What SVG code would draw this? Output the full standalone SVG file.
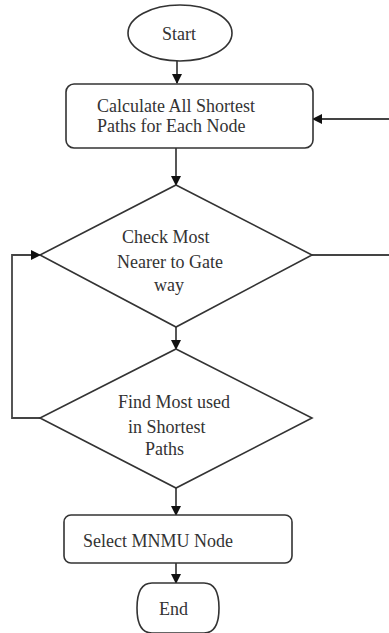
<svg xmlns="http://www.w3.org/2000/svg" width="389" height="633" viewBox="0 0 389 633">
<defs>
<marker id="ah" markerWidth="10" markerHeight="10" refX="9" refY="5" orient="auto" markerUnits="userSpaceOnUse">
<path d="M0,0 L10,5 L0,10 Z" fill="#111"/>
</marker>
<style>
.s{fill:#fff;stroke:#333;stroke-width:1.6}
.c{fill:none;stroke:#444;stroke-width:1.8}
.t{font-family:"Liberation Serif","Times New Roman",serif;font-size:18px;fill:#333}
</style>
</defs>
<rect width="389" height="633" fill="#fff"/>
<g id="connectors">
<line class="c" x1="177" y1="61" x2="177" y2="83" marker-end="url(#ah)"/>
<line class="c" x1="176" y1="148" x2="176" y2="185" marker-end="url(#ah)"/>
<line class="c" x1="176" y1="327" x2="176" y2="349" marker-end="url(#ah)"/>
<line class="c" x1="176" y1="488" x2="176" y2="515" marker-end="url(#ah)"/>
<line class="c" x1="176" y1="563" x2="176" y2="583" marker-end="url(#ah)"/>
<line class="c" x1="312" y1="255" x2="389" y2="255"/>
<line class="c" x1="389" y1="119" x2="313" y2="119" marker-end="url(#ah)"/>
<polyline class="c" points="40,418 12,418 12,255 40,255" marker-end="url(#ah)"/>
</g>
<g id="start">
<ellipse class="s" cx="180" cy="33" rx="52" ry="28"/>
<text class="t" x="162" y="40">Start</text>
</g>
<g id="calc">
<rect class="s" x="66" y="84" width="247" height="64" rx="8"/>
<text class="t" x="97" y="112">Calculate All Shortest</text>
<text class="t" x="97" y="132">Paths for Each Node</text>
</g>
<g id="check">
<polygon class="s" points="176,185 312,255 176,327 40,255"/>
<text class="t" x="122" y="243">Check Most</text>
<text class="t" x="117" y="268">Nearer to Gate</text>
<text class="t" x="154" y="291">way</text>
</g>
<g id="find">
<polygon class="s" points="176,349 312,418 176,488 40,418"/>
<text class="t" x="118" y="408">Find Most used</text>
<text class="t" x="128" y="433">in Shortest</text>
<text class="t" x="145" y="455">Paths</text>
</g>
<g id="select">
<rect class="s" x="64" y="515" width="228" height="48" rx="7"/>
<text class="t" x="83" y="547">Select MNMU Node</text>
</g>
<g id="end">
<path class="s" d="M152,583 H204 Q219,583 219,608 Q219,633 204,633 H152 Q137,633 137,608 Q137,583 152,583 Z"/>
<text class="t" x="159" y="615">End</text>
</g>
</svg>
